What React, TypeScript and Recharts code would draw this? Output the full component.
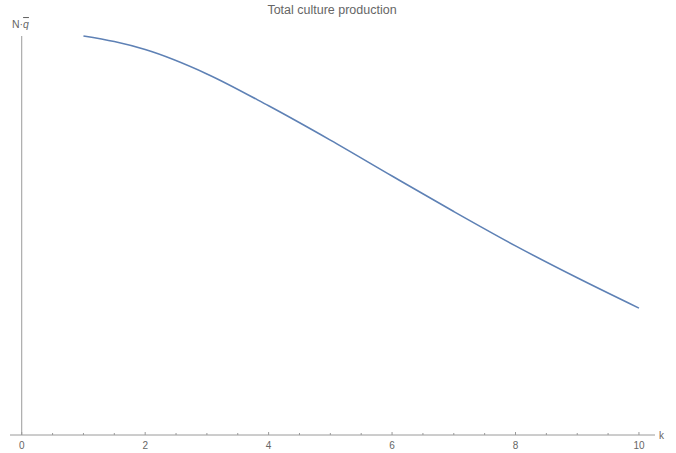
import React from "react";
import { LineChart, Line, XAxis, YAxis, ReferenceLine } from "recharts";

// values (y normalised so max = 1)
const kValues = [1, 1.5, 2, 3, 4, 5, 6, 7, 8, 9, 10];
const production = [1.0, 0.986, 0.966, 0.905, 0.825, 0.739, 0.649, 0.56, 0.474, 0.394, 0.318];
const xTicks = [0, 0.5, 1, 1.5, 2, 2.5, 3, 3.5, 4, 4.5, 5, 5.5, 6, 6.5, 7, 7.5, 8, 8.5, 9, 9.5, 10];
const majorTicks = [0, 2, 4, 6, 8, 10];

const data = kValues.map((k, i) => ({ k, q: production[i] }));

const AXIS = "#9a9a9a";
const TEXT = "#666666";
const FONT = "'Liberation Sans', Arial, sans-serif";

// ticks point up into the plot, labels only on the even values
const XTick = ({ x, y, payload }: any) => {
  const major = majorTicks.includes(payload.value);
  return (
    <g>
      <line x1={x} x2={x} y1={y} y2={y - (major ? 3 : 2)} stroke={AXIS} strokeWidth={1} />
      {major && (
        <text x={x} y={y + 14} textAnchor="middle" fontSize={10} fill={TEXT} fontFamily={FONT}>
          {payload.value}
        </text>
      )}
    </g>
  );
};

export default function App() {
  return (
    <div style={{ position: "absolute", left: 0, top: 0, width: 676, height: 453, background: "#fff" }}>
      <LineChart width={676} height={453} data={data} margin={{ top: 36, right: 21, left: 10, bottom: 0 }}>
        <XAxis
          dataKey="k"
          type="number"
          domain={[-0.19, 10.26]}
          ticks={xTicks}
          interval={0}
          height={18}
          tickSize={0}
          tickMargin={0}
          tickLine={false}
          axisLine={{ stroke: AXIS }}
          tick={<XTick />}
        />
        <YAxis hide domain={[0, 1]} type="number" />
        <ReferenceLine
          segment={[{ x: 0, y: 0 }, { x: 0, y: 1 }]}
          stroke={AXIS}
          strokeWidth={1}
          ifOverflow="visible"
        />
        <Line
          type="monotone"
          dataKey="q"
          stroke="#5E81B5"
          strokeWidth={1.6}
          dot={false}
          isAnimationActive={false}
        />
      </LineChart>

      <svg width={676} height={453} style={{ position: "absolute", left: 0, top: 0, pointerEvents: "none" }}>
        <text x={332} y={14} textAnchor="middle" fontSize={12.5} fill={TEXT} fontFamily={FONT}>
          Total  culture production
        </text>
        <text x={12} y={28} fontSize={10.5} fill={TEXT} fontFamily={FONT}>
          N·
          <tspan fontStyle="italic" style={{ textDecoration: "overline" }}>q</tspan>
        </text>
        <text x={659} y={439} fontSize={10} fill={TEXT} fontFamily={FONT}>
          k
        </text>
      </svg>
    </div>
  );
}
